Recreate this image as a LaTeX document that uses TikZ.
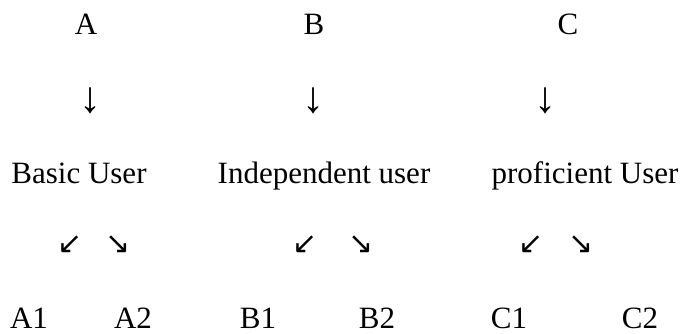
\documentclass[tikz,border=0pt]{standalone}
\usepackage{fontspec}
\setmainfont{Liberation Serif}
\newfontfamily\arrowfont{DejaVu Sans}
\begin{document}
\begin{tikzpicture}[x=1pt,y=-1pt,
  lbl/.style={inner sep=0pt, anchor=base, font=\fontsize{31}{33}\selectfont},
  downarr/.style={inner sep=0pt, font=\fontsize{44}{46}\selectfont},
  diagarr/.style={inner sep=0pt, font=\arrowfont\fontsize{30}{32}\selectfont}]
\useasboundingbox (0,0) rectangle (687,334);
% top row
\node[lbl] (A) at (86,35) {A};
\node[lbl] (B) at (314,35) {B};
\node[lbl] (C) at (568,35) {C};
% down arrows
\node[downarr] (dA) at (90,101) {↓};
\node[downarr] (dB) at (313,101) {↓};
\node[downarr] (dC) at (545,101) {↓};
% middle row
\node[lbl] (bu) at (79,183) {Basic User};
\node[lbl] (iu) at (324,183) {Independent user};
\node[lbl] (pu) at (585,183) {proficient User};
% diagonal arrows
\node[diagarr] (a1) at (70,245) {↙};
\node[diagarr] (a2) at (118,245) {↘};
\node[diagarr] (b1) at (305,245) {↙};
\node[diagarr] (b2) at (361,245) {↘};
\node[diagarr] (c1) at (531,245) {↙};
\node[diagarr] (c2) at (581,245) {↘};
% bottom row
\node[lbl] (A1) at (29,328) {A1};
\node[lbl] (A2) at (133,328) {A2};
\node[lbl] (B1) at (258,328) {B1};
\node[lbl] (B2) at (377,328) {B2};
\node[lbl] (C1) at (509,328) {C1};
\node[lbl] (C2) at (640,328) {C2};
\end{tikzpicture}
\end{document}
